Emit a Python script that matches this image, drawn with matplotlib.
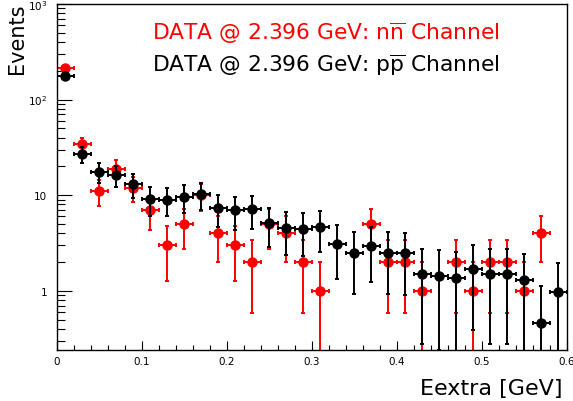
import numpy as np
import matplotlib
matplotlib.use("Agg")
import matplotlib.pyplot as plt
from matplotlib.ticker import FixedLocator, FixedFormatter, MultipleLocator, LogLocator, NullFormatter

plt.rcParams['font.family'] = ['DejaVu Sans']
plt.rcParams['mathtext.fontset'] = 'dejavusans'

# bin centres of Eextra [GeV]
bin_centers = [0.01, 0.03, 0.05, 0.07, 0.09, 0.11, 0.13, 0.15, 0.17, 0.19,
               0.21, 0.23, 0.25, 0.27, 0.29, 0.31, 0.33, 0.35, 0.37, 0.39,
               0.41, 0.43, 0.45, 0.47, 0.49, 0.51, 0.53, 0.55, 0.57, 0.59]
bin_halfwidth = 0.01

# n nbar channel (red)
nn_counts = [213, 34, 11, 19, 12, 7, 3, 5, 10, 4,
             3, 2, 5, 4, 2, 1, 0, 0, 5, 2,
             2, 1, 0, 2, 1, 2, 2, 1, 4, 0]
# p pbar channel (black)
pp_counts = [176, 27, 17.6, 16.3, 13, 9.1, 9.0, 9.6, 10.2, 7.3,
             7.0, 7.1, 5.1, 4.5, 4.4, 4.7, 3.1, 2.5, 2.95, 2.5,
             2.48, 1.5, 1.44, 1.36, 1.69, 1.5, 1.5, 1.3, 0.456, 0.98]

label_nn = r"DATA @ 2.396 GeV: n$\overline{\mathrm{n}}$ Channel"
label_pp = r"DATA @ 2.396 GeV: p$\overline{\mathrm{p}}$ Channel"
xlabel = "Eextra [GeV]"
ylabel = "Events"
ytick_vals = [1, 10, 100, 1000]
ytick_labels = ["1", "10", r"$10^{2}$", r"$10^{3}$"]
xtick_vals = [0, 0.1, 0.2, 0.3, 0.4, 0.5, 0.6]
xtick_labels = ["0", "0.1", "0.2", "0.3", "0.4", "0.5", "0.6"]

W, H = 573, 402
fig = plt.figure(figsize=(W / 100, H / 100), dpi=100)
ax = fig.add_axes([56.7 / W, 1 - 351 / H, (566.5 - 56.7) / W, (351 - 5) / H])
ax.set_yscale('log')


def draw(x, y, color):
    x = np.asarray(x, float)
    y = np.asarray(y, float)
    m = y > 0
    x, y = x[m], y[m]
    err = np.sqrt(y)
    lo = np.minimum(err, y - 1e-3)
    ax.errorbar(x, y, yerr=[lo, err], xerr=bin_halfwidth, fmt='o', color=color,
                ms=6.5, mec=color, mfc=color, elinewidth=1.4, capsize=1.6,
                capthick=1.4, zorder=3 if color == 'black' else 2)


draw(bin_centers, nn_counts, '#ff0000')
draw(bin_centers, pp_counts, 'black')

ax.set_xlim(0, 0.6)
ax.set_ylim(0.24, 1000)

ax.xaxis.set_major_locator(FixedLocator(xtick_vals))
ax.xaxis.set_major_formatter(FixedFormatter(xtick_labels))
ax.xaxis.set_minor_locator(MultipleLocator(0.02))
ax.yaxis.set_major_locator(FixedLocator(ytick_vals))
ax.yaxis.set_major_formatter(FixedFormatter(ytick_labels))
ax.yaxis.set_minor_locator(LogLocator(base=10, subs=np.arange(2, 10)))
ax.yaxis.set_minor_formatter(NullFormatter())

ax.tick_params(axis='both', which='both', direction='in', top=False, right=False,
               labelsize=7.5, width=0.8, color='black')
ax.tick_params(axis='x', which='major', length=6.5, pad=4)
ax.tick_params(axis='x', which='minor', length=3.6)
ax.tick_params(axis='y', which='major', length=10.8, pad=7)
ax.tick_params(axis='y', which='minor', length=5.8)
for s in ax.spines.values():
    s.set_linewidth(1.0)
    s.set_color('black')

fig.text(152 / W, 1 - 40 / H, label_nn, color='#ff0000', fontsize=15.7,
         ha='left', va='baseline')
fig.text(152 / W, 1 - 72 / H, label_pp, color='black', fontsize=15.7,
         ha='left', va='baseline')
fig.text(563 / W, 1 - 395 / H, xlabel, fontsize=16, ha='right', va='baseline')
fig.text(27 / W, 1 - 4 / H, ylabel, fontsize=15, rotation=90,
         ha='right', va='top', rotation_mode='default')

fig.savefig('out.png', dpi=100)
